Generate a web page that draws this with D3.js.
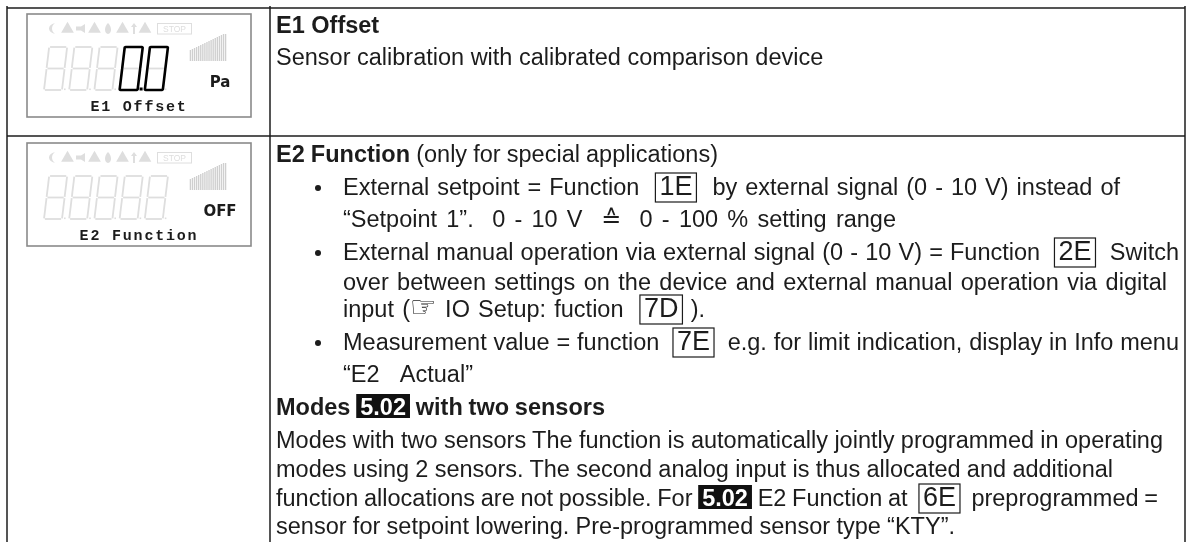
<!DOCTYPE html>
<meta charset="utf-8">
<style>
  html, body { margin: 0; background: #fff; }
  svg { display: block; filter: blur(0.35px); }
  text { white-space: pre; }
</style>
<svg width="1192" height="542"></svg>

<script src="https://cdn.jsdelivr.net/npm/d3@7/dist/d3.min.js"></script>
<script>

// ---- text of the right hand column, one array of runs per line
var e1Lines = [
  [["b", "E1 Offset"]],
  [["t", "Sensor calibration with calibrated comparison device"]]
];
var e2Lines = [
  [["b", "E2 Function"], ["t", " (only for special applications)"]],
  [["t", "External setpoint = Function  "], ["box", "1E"], ["t", "  by external signal (0 - 10 V) instead of"]],
  [["t", "\u201CSetpoint 1\u201D.  0 - 10 V  "], ["sym", "\u2259"], ["t", "  0 - 100 % setting range"]],
  [["t", "External manual operation via external signal (0 - 10 V) = Function  "], ["box", "2E"], ["t", "  Switch"]],
  [["t", "over between settings on the device and external manual operation via digital"]],
  [["t", "input ("], ["sym", "\u261E"], ["t", " IO Setup: fuction  "], ["box", "7D"], ["t", " )."]],
  [["t", "Measurement value = function  "], ["box", "7E"], ["t", "  e.g. for limit indication, display in Info menu"]],
  [["t", "\u201CE2 Actual\u201D"]],
  [["b", "Modes "], ["inv", "5.02"], ["b", " with two sensors"]],
  [["t", "Modes with two sensors The function is automatically jointly programmed in operating"]],
  [["t", "modes using 2 sensors. The second analog input is thus allocated and additional"]],
  [["t", "function allocations are not possible. For "], ["inv", "5.02"], ["t", " E2 Function at  "], ["box", "6E"], ["t", "  preprogrammed ="]],
  [["t", "sensor for setpoint lowering. Pre-programmed sensor type \u201CKTY\u201D."]]
];
var bulletLines = [1, 3, 6];
var indentedLines = [1, 2, 3, 4, 5, 6, 7];

// ---- display panels
var panelLabels = ["E1 Offset", "E2 Function"];
var panelUnits = ["Pa", "OFF"];
var panelLit = [[null, null, null, "0", "0"], [null, null, null, null, null]];
var panelDots = [[3], []];
var barLevels = [11, 12, 13, 14, 15, 16, 17, 18, 19, 20, 21, 22, 23, 24, 25, 26, 27, 27];
var segmentsOf = { "0": ["a", "b", "c", "d", "e", "f"], "8": ["a", "b", "c", "d", "e", "f", "g"] };

// ---- layout
var svg = d3.select("svg");
var ink = "#1c1c1c", ghost = "#dedede";
var tableX = [7, 270, 1185], tableY = [8, 136];
var e1Base = [33, 65], e1Right = [null, null];
var e2Base = [162, 195, 227, 260, 290, 317, 350, 382, 415, 448, 477, 506, 534];
var e2Right = [718, 1120, 896, 1179, 1167, 705, 1179, 473, 605, 1163, 1113, 1158, 955];
var leftX = 276, indentX = 343, bulletX = 318;
var fontSize = 23.5;

// table rules
var rules = svg.append("g").attr("stroke", ink).attr("stroke-width", 1.5);
rules.selectAll(".v").data(tableX).join("line").attr("class", "v")
  .attr("x1", function(d) { return d; }).attr("x2", function(d) { return d; })
  .attr("y1", tableY[0] - 2).attr("y2", 542);
rules.selectAll(".h").data(tableY).join("line").attr("class", "h")
  .attr("x1", tableX[0]).attr("x2", tableX[2])
  .attr("y1", function(d) { return d; }).attr("y2", function(d) { return d; });

function placeLine(line, x, y, wordGap) {
  var g = svg.append("g").attr("transform", "translate(" + x + "," + y + ")");
  var cx = 0;
  line.forEach(function(run) {
    var kind = run[0], str = run[1];
    var t = g.append("text").attr("x", cx).attr("fill", ink).attr("word-spacing", wordGap)
      .attr("font-family", "Liberation Sans").attr("font-size", fontSize).text(str);
    if (kind == "b") t.attr("font-weight", "bold");
    if (kind == "sym") t.attr("font-family", "DejaVu Sans").attr("font-size", str == "\u261E" ? 30 : 24);
    if (kind == "box") {
      t.attr("font-size", 27).attr("x", cx + 4);
      var w = t.node().getComputedTextLength() + 8;
      g.insert("rect", "text").attr("x", cx).attr("y", -22).attr("width", w).attr("height", 29)
        .attr("fill", "none").attr("stroke", ink).attr("stroke-width", 1.2);
      cx += w;
      return;
    }
    if (kind == "inv") {
      t.attr("font-weight", "bold").attr("fill", "#fff").attr("x", cx + 4);
      var iw = t.node().getComputedTextLength() + 8;
      g.insert("rect", "text").attr("x", cx).attr("y", -21).attr("width", iw).attr("height", 24).attr("fill", "#111");
      cx += iw;
      return;
    }
    cx += t.node().getComputedTextLength();
  });
  return { g: g, width: cx };
}

// draw the line once to measure it, then again with the word gap that hits its right edge
function drawLine(line, x, y, right) {
  var first = placeLine(line, x, y, 0);
  if (right == null) return;
  var spaces = d3.sum(line, function(run) { return (run[1].match(/ /g) || []).length; });
  first.g.remove();
  placeLine(line, x, y, (right - x - first.width) / spaces);
}

e1Lines.forEach(function(line, i) { drawLine(line, leftX, e1Base[i], e1Right[i]); });
e2Lines.forEach(function(line, i) {
  drawLine(line, indentedLines.indexOf(i) >= 0 ? indentX : leftX, e2Base[i], e2Right[i]);
});
svg.selectAll(".bullet").data(bulletLines).join("circle").attr("class", "bullet")
  .attr("cx", bulletX).attr("cy", function(i) { return e2Base[i] - 7; }).attr("r", 3).attr("fill", ink);

// ---- seven segment display
var segX = d3.scaleLinear().domain([0, 1]).range([0, 18]);
var segY = d3.scaleLinear().domain([0, 2]).range([43, 0]);
var segLine = d3.line().x(function(d) { return segX(d[0]) + (43 - segY(d[1])) * 0.12; }).y(function(d) { return segY(d[1]); });
var segPoints = {
  a: [[0.05, 2], [0.95, 2]], b: [[1, 1.97], [1, 1.03]], c: [[1, 0.97], [1, 0.03]],
  d: [[0.05, 0], [0.95, 0]], e: [[0, 0.97], [0, 0.03]], f: [[0, 1.97], [0, 1.03]], g: [[0.05, 1], [0.95, 1]]
};
var digitX = d3.scaleBand().domain(d3.range(5)).range([44, 170]);

function drawDigit(g, ch, color, width, cap) {
  g.selectAll(null).data(segmentsOf[ch]).join("path")
    .attr("d", function(s) { return segLine(segPoints[s]); })
    .attr("fill", "none").attr("stroke", color).attr("stroke-width", width).attr("stroke-linecap", cap);
}

function drawPanel(index, dy) {
  var g = svg.append("g").attr("transform", "translate(0," + dy + ")");
  g.append("rect").attr("x", 27).attr("y", 14).attr("width", 224).attr("height", 103)
    .attr("fill", "#fff").attr("stroke", "#8a8a8a").attr("stroke-width", 1.6);

  // status icons
  var icons = g.append("g").attr("fill", ghost);
  icons.append("path").attr("d", "M55 23 C47 25 47 32 55 34 C51 31 51 26 55 23Z");
  [67.5, 94.5, 122.5, 145].forEach(function(x) {
    icons.append("path").attr("d", d3.symbol(d3.symbolTriangle, 70)()).attr("transform", "translate(" + x + ",29)");
  });
  icons.append("path").attr("d", "M76 26.5 H81 L85 24 V33 L81 30.5 H76Z");
  icons.append("path").attr("d", "M108 23 C112 27 112 33 108 34 C104 33 104 27 108 23Z");
  icons.append("path").attr("d", "M134 23 L137 27 H135 V34 H133 V27 H131Z");
  g.append("rect").attr("x", 157.5).attr("y", 23.5).attr("width", 34).attr("height", 10.5)
    .attr("fill", "none").attr("stroke", ghost);
  g.append("text").attr("x", 174.5).attr("y", 32).attr("text-anchor", "middle")
    .attr("font-family", "Liberation Sans").attr("font-size", 8.5).attr("fill", ghost).text("STOP");

  // bar graph
  var barX = d3.scaleBand().domain(d3.range(barLevels.length)).range([189, 227]).padding(0.35);
  var barY = d3.scaleLinear().domain([0, 27]).range([61, 34]);
  g.selectAll(".bar").data(barLevels).join("rect").attr("class", "bar")
    .attr("x", function(d, i) { return barX(i); }).attr("width", barX.bandwidth())
    .attr("y", function(d) { return barY(d); }).attr("height", function(d) { return barY(0) - barY(d); })
    .attr("fill", "#cfcfcf");

  // digits
  d3.range(5).forEach(function(i) {
    var dg = g.append("g").attr("transform", "translate(" + digitX(i) + ",47)");
    drawDigit(dg, "8", ghost, 1.8, "butt");
    dg.append("rect").attr("x", 20).attr("y", 41.5).attr("width", 1.6).attr("height", 1.6).attr("fill", ghost);
    if (panelLit[index][i]) drawDigit(dg, panelLit[index][i], "#000", 2.6, "round");
    if (panelDots[index].indexOf(i) >= 0)
      dg.append("rect").attr("x", 20).attr("y", 40.5).attr("width", 3).attr("height", 3).attr("fill", "#000");
  });

  g.append("text").attr("x", 220).attr("y", 87).attr("text-anchor", "middle")
    .attr("font-family", "DejaVu Sans").attr("font-weight", "bold").attr("font-size", 15)
    .attr("fill", ink).text(panelUnits[index]);
  g.append("text").attr("x", 139).attr("y", 111).attr("text-anchor", "middle")
    .attr("font-family", "Liberation Mono").attr("font-weight", "bold").attr("font-size", 15)
    .attr("letter-spacing", 1.8).attr("fill", ink).text(panelLabels[index]);
}

drawPanel(0, 0);
drawPanel(1, 129);

</script>
